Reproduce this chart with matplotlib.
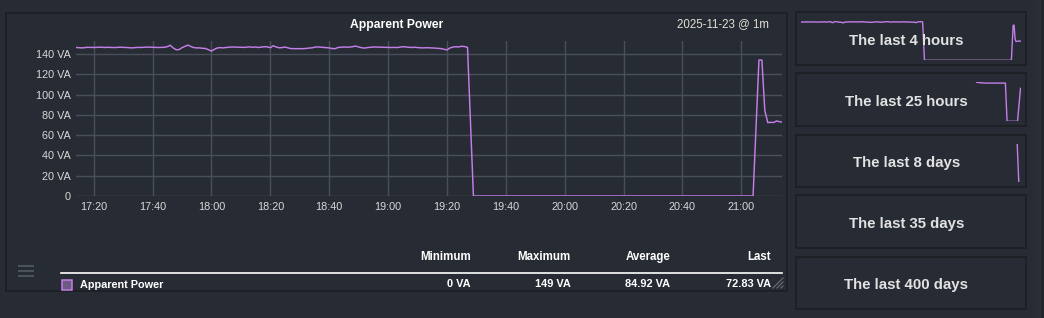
import matplotlib
matplotlib.use('Agg')
import matplotlib.pyplot as plt
from matplotlib.patches import Rectangle

# ---------------- data ----------------
start_minute = 17 * 60 + 14          # 17:14, one point per minute
power_va = [
    146.4, 146.2, 146.0, 146.3, 146.6, 146.5, 146.4, 146.6, 146.7, 146.5,
    146.4, 146.6, 146.5, 146.3, 146.5, 146.7, 146.6, 146.4, 146.2, 146.0,
    146.3, 146.5, 146.4, 146.6, 146.8, 146.7, 146.5, 146.6, 146.4, 146.5,
    146.6, 147.2, 148.6, 146.0, 144.2, 144.3, 146.2, 147.5, 148.8, 147.4,
    146.3, 146.0, 146.0, 145.6, 145.4, 144.2, 142.8, 144.6, 145.9, 146.3,
    146.0, 146.4, 146.6, 146.9, 146.8, 146.6, 146.7, 146.5, 146.8, 147.0,
    146.6, 146.9, 146.4, 146.8, 147.2, 147.0, 146.2, 148.1, 146.9, 146.1,
    146.3, 146.8, 146.1, 145.3, 145.2, 145.2, 145.3, 145.2, 145.4, 145.8,
    146.0, 146.6, 147.0, 146.8, 146.5, 146.2, 146.0, 145.4, 145.2, 146.4,
    146.6, 146.9, 146.7, 146.8, 147.2, 147.8, 146.9, 146.2, 145.8, 146.3,
    146.6, 146.9, 146.8, 146.6, 146.7, 146.6, 146.5, 146.4, 146.5, 146.3,
    146.8, 147.2, 146.9, 146.5, 146.4, 146.6, 146.3, 146.1, 146.0, 146.2,
    146.1, 146.0, 145.8, 145.6, 145.3, 144.6, 144.0, 145.9, 146.8, 147.2,
    146.9, 147.6, 147.3, 146.6, 74.0,
] + [0.0] * 96 + [
    67.0, 134.0, 134.0, 84.0, 72.4, 72.6, 72.5, 74.0, 73.2, 72.83,
]

x_tick_minutes = [17*60+20, 17*60+40, 18*60, 18*60+20, 18*60+40, 19*60,
                  19*60+20, 19*60+40, 20*60, 20*60+20, 20*60+40, 21*60]
x_tick_labels = ["17:20", "17:40", "18:00", "18:20", "18:40", "19:00",
                 "19:20", "19:40", "20:00", "20:20", "20:40", "21:00"]
y_ticks = [0, 20, 40, 60, 80, 100, 120, 140]
y_tick_labels = ["0", "20 VA", "40 VA", "60 VA", "80 VA", "100 VA", "120 VA", "140 VA"]

title = "Apparent Power"
date_label = "2025-11-23 @ 1m"
stat_headers = ["Minimum", "Maximum", "Average", "Last"]
stat_values = ["0 VA", "149 VA", "84.92 VA", "72.83 VA"]
series_name = "Apparent Power"

# sparkline series (hours before end of window)
spark25_hours = [-5.0, -4.45, -4.0, -1.72, -1.53, -0.34, 0.0]
spark25_values = [149.0, 147.0, 146.0, 146.0, 0.0, 0.0, 126.0]
spark8d_hours = [-2.9, -1.5]
spark8d_values = [149.0, 0.0]
spark_labels = ["The last 4 hours", "The last 25 hours", "The last 8 days",
                "The last 35 days", "The last 400 days"]

# ---------------- style ----------------
BG = '#272c34'
BORDER = '#1b1e23'
GRID = '#484e5a'
LINE = '#c47ee8'
TXT = '#d8d8d8'
FONT = 'Liberation Sans'
plt.rcParams['font.family'] = [FONT, 'DejaVu Sans']

W, H = 1044, 318
fig = plt.figure(figsize=(W / 100, H / 100), dpi=100)
fig.patch.set_facecolor(BG)

bgax = fig.add_axes([0, 0, 1, 1])
bgax.set_xlim(0, W)
bgax.set_ylim(H, 0)
bgax.axis('off')
bgax.set_zorder(0)


def px_axes(x0, y0, x1, y1):
    return fig.add_axes([x0 / W, 1 - y1 / H, (x1 - x0) / W, (y1 - y0) / H])


# main panel border
bgax.add_patch(Rectangle((5.5, 12.5), 781.5, 278.5, facecolor=BG,
                         edgecolor=BORDER, lw=1.2))
# right strip
bgax.add_patch(Rectangle((1035, 0), 6.5, H, facecolor='#292e36', edgecolor='none'))
bgax.plot([1042, 1042], [0, H], color='#1f2228', lw=1.0)

# title + date
bgax.text(396.5, 25, title, ha='center', va='center', color='white',
          fontsize=8.7, fontweight='bold')
bgax.text(769, 24.5, date_label, ha='right', va='center', color='#e2dfd2',
          fontsize=8.3)

# ---------------- main chart ----------------
ax = px_axes(76, 41, 782.5, 196)
ax.set_zorder(2)
ax.set_facecolor('none')
times = [start_minute + i for i in range(len(power_va))]
ax.plot(times, power_va, color=LINE, lw=1.05, solid_joinstyle='round', zorder=3)
ax.set_xlim(start_minute, start_minute + len(power_va) - 1)
ax.set_ylim(0, 152.8)
ax.set_xticks(x_tick_minutes)
ax.set_xticklabels(x_tick_labels)
ax.set_yticks(y_ticks)
ax.set_yticklabels(y_tick_labels)
ax.tick_params(axis='both', length=0, colors=TXT, labelsize=7.8)
ax.tick_params(axis='x', pad=4.2)
ax.tick_params(axis='y', pad=3.8)
for s in ax.spines.values():
    s.set_visible(False)
ax.grid(True, color=GRID, lw=1.0)
ax.set_axisbelow(True)

# ---------------- legend / stats ----------------
bgax.plot([61, 781.5], [273.2, 273.2], color='white', lw=1.2)
bgax.add_patch(Rectangle((61.5, 279.5), 10, 10, facecolor='#6b5a82',
                         edgecolor='#c47ee8', lw=1.1))
bgax.text(80, 284.5, series_name, ha='left', va='center', color='white',
          fontsize=7.8, fontweight='bold')
stat_x = [470.7, 570.7, 670.5, 770.7]
for xr, hd, val in zip(stat_x, stat_headers, stat_values):
    bgax.text(xr, 257, hd, ha='right', va='center', color='white',
              fontsize=8.3, fontweight='bold')
    bgax.text(xr, 284, val, ha='right', va='center', color='white',
              fontsize=7.9, fontweight='bold')
# resize grip
for k in range(3):
    off = k * 4
    bgax.plot([773 + off, 783], [288, 278 + off], color='#6a6f78', lw=0.8)
# hamburger
for yy in (265.7, 270.7, 275.7):
    bgax.plot([18.3, 33.7], [yy, yy], color='#4a525b', lw=1.5,
              solid_capstyle='butt')

# ---------------- sparklines ----------------
boxes = [(12.3, 65.3), (73.3, 126.3), (134.7, 187.3), (195.3, 248.3), (256.7, 309.3)]
spark_data = [
    ([i for i in range(len(power_va))], power_va, (0, len(power_va) - 1)),
    (spark25_hours, spark25_values, (-25, 0)),
    (spark8d_hours, spark8d_values, (-192, 0)),
    (None, None, None),
    (None, None, None),
]
for (top, bot), label, (sx, sy, xl) in zip(boxes, spark_labels, spark_data):
    bgax.add_patch(Rectangle((796.3, top), 229.4, bot - top, facecolor=BG,
                             edgecolor=BORDER, lw=1.2))
    if sx is not None:
        sax = px_axes(801, top + 9, 1020.5, bot - 5)
        sax.set_zorder(2)
        sax.set_facecolor('none')
        sax.plot(sx, sy, color=LINE, lw=1.0)
        sax.set_xlim(*xl)
        sax.set_ylim(0, 149)
        sax.axis('off')
    fig.text(906.5 / W, 1 - ((top + bot) / 2 + 2.2) / H, label, ha='center',
             va='center', color='#e2e2e2', fontsize=10.8, fontweight='bold',
             zorder=5)

fig.savefig('out.png', dpi=100, facecolor=BG)
